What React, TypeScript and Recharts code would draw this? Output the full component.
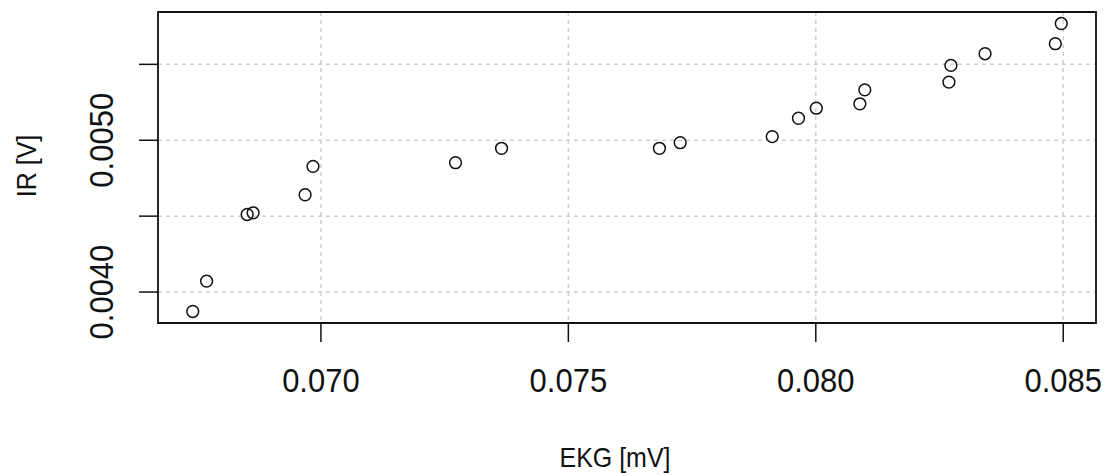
import { ScatterChart, Scatter, XAxis, YAxis, CartesianGrid, ReferenceArea } from 'recharts';

// EKG amplitude vs. IR sensor output, one pair per measurement
const ekg = [
  0.06741, 0.06769, 0.06851, 0.06863, 0.06968, 0.06984, 0.07272, 0.07365, 0.07684, 0.07726,
  0.07912, 0.07965, 0.08001, 0.08089, 0.08099, 0.08269, 0.08273, 0.08342, 0.08484, 0.08496,
];
const ir = [
  0.003872, 0.004072, 0.004511, 0.004522, 0.004641, 0.004828, 0.004852, 0.004947, 0.004947, 0.004984,
  0.005024, 0.005145, 0.005211, 0.00524, 0.005332, 0.005383, 0.005493, 0.00557, 0.005636, 0.005769,
];

const xTicks = [0.07, 0.075, 0.08, 0.085];
const xTickLabels = ['0.070', '0.075', '0.080', '0.085'];
const yTicks = [0.004, 0.0045, 0.005, 0.0055];
// labels at 0.0045 and 0.0055 would overlap, so they stay blank
const yTickLabels = ['0.0040', '', '0.0050', ''];

const points = ekg.map((v, i) => ({ ekg: v, ir: ir[i] }));

// base R style axis range: data range padded 4% on each side
const padded = (vals: number[]): [number, number] => {
  const lo = Math.min(...vals);
  const hi = Math.max(...vals);
  const d = (hi - lo) * 0.04;
  return [lo - d, hi + d];
};
const xDomain = padded(ekg);
const yDomain = padded(ir);

const FONT = '"Liberation Sans", Arial, sans-serif';
const INK = '#111';
// glyphs of the device font run a bit taller than Liberation Sans
const STRETCH = 1.1;

const XTick = (props: any) => {
  const i = xTicks.indexOf(props.payload.value);
  return (
    <text
      transform={`translate(${props.x}, 392) scale(1, ${STRETCH})`}
      textAnchor="middle"
      fontFamily={FONT}
      fontSize={31}
      fill={INK}
    >
      {i >= 0 ? xTickLabels[i] : ''}
    </text>
  );
};

const YTick = (props: any) => {
  const i = yTicks.indexOf(props.payload.value);
  const label = i >= 0 ? yTickLabels[i] : '';
  if (!label) return <g />;
  return (
    <text
      transform={`translate(113, ${props.y}) rotate(-90) scale(1, ${STRETCH})`}
      textAnchor="middle"
      fontFamily={FONT}
      fontSize={31}
      fill={INK}
    >
      {label}
    </text>
  );
};

const OpenCircle = (props: any) => (
  <circle cx={props.cx} cy={props.cy} r={5.9} fill="none" stroke="#111" strokeWidth={1.5} />
);

export default function App() {
  return (
    <div style={{ position: 'absolute', left: 0, top: 0, background: '#fff' }}>
      <ScatterChart width={1106} height={476} margin={{ top: 12, right: 10, bottom: 0, left: 0 }}>
        <CartesianGrid stroke="#d0d0d0" strokeWidth={1.5} strokeDasharray="4 4" />
        <XAxis
          type="number"
          dataKey="ekg"
          domain={xDomain}
          ticks={xTicks}
          allowDataOverflow
          height={153}
          axisLine={false}
          tickLine={{ stroke: '#111', strokeWidth: 1.5 }}
          tickSize={19}
          tick={<XTick />}
          interval={0}
        />
        <YAxis
          type="number"
          dataKey="ir"
          domain={yDomain}
          ticks={yTicks}
          allowDataOverflow
          width={158}
          axisLine={false}
          tickLine={{ stroke: '#111', strokeWidth: 1.5 }}
          tickSize={19}
          tick={<YTick />}
          interval={0}
        />
        <ReferenceArea
          x1={xDomain[0]}
          x2={xDomain[1]}
          y1={yDomain[0]}
          y2={yDomain[1]}
          fill="none"
          fillOpacity={0}
          stroke="#111"
          strokeWidth={1.8}
        />
        <Scatter data={points} shape={<OpenCircle />} isAnimationActive={false} />
        <text
          transform={`translate(615, 467) scale(1, ${STRETCH})`}
          textAnchor="middle"
          fontFamily={FONT}
          fontSize={25}
          fill={INK}
        >
          EKG [mV]
        </text>
        <text
          transform={`translate(36, 166) rotate(-90) scale(1, ${STRETCH})`}
          textAnchor="middle"
          fontFamily={FONT}
          fontSize={25}
          fill={INK}
        >
          IR [V]
        </text>
      </ScatterChart>
    </div>
  );
}
